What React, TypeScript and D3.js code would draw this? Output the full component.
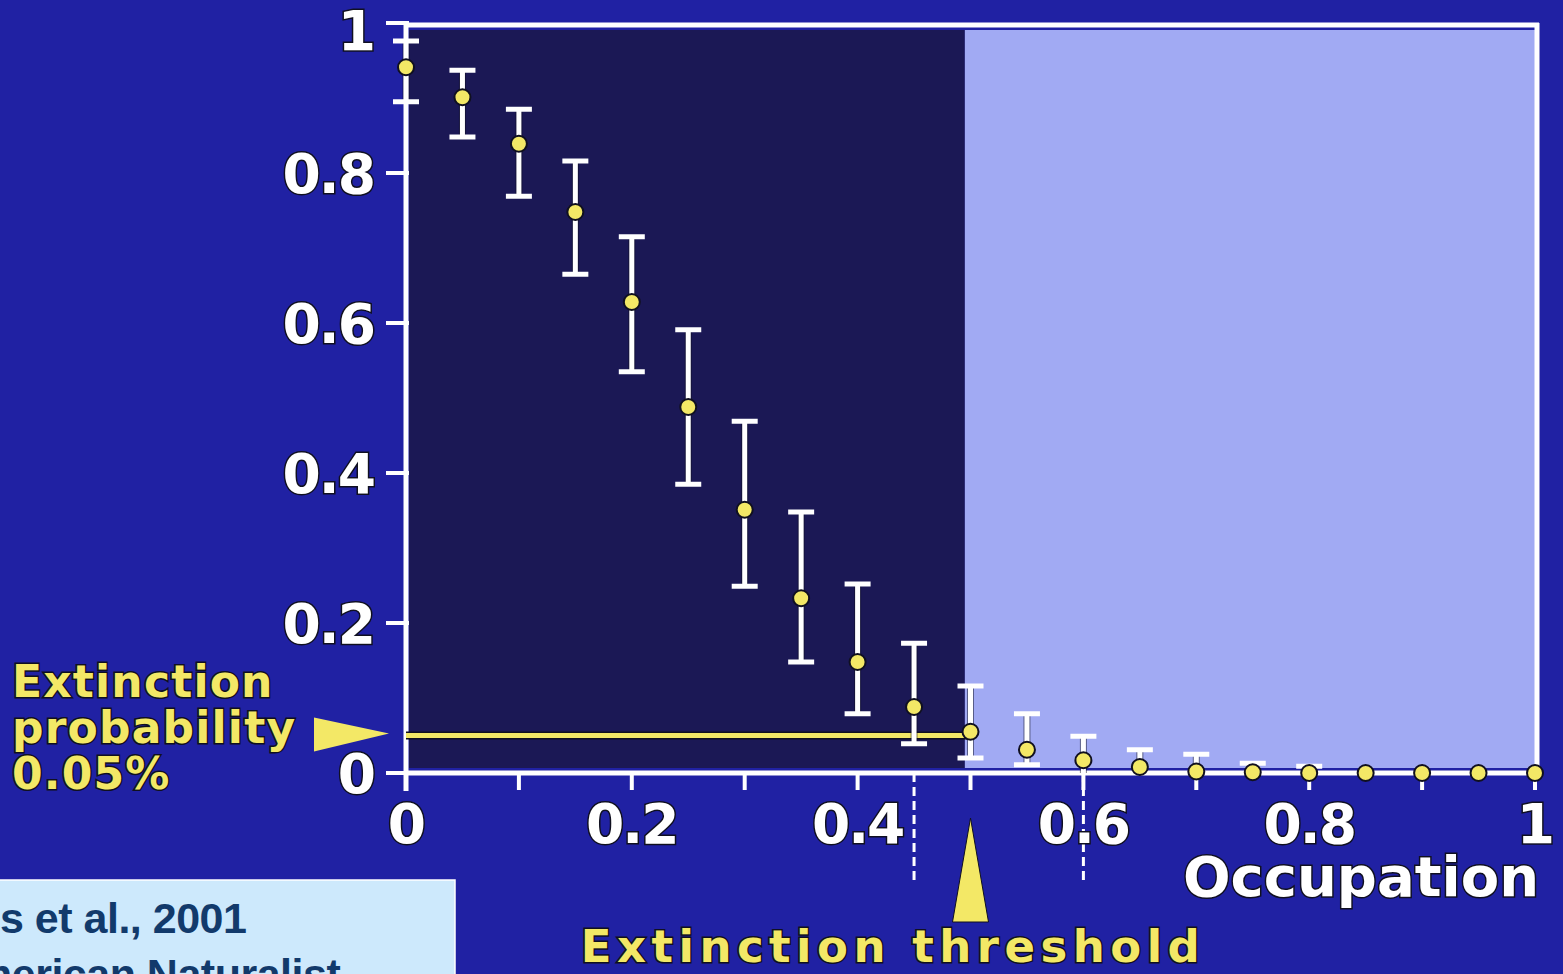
import React from "react";
import * as d3 from "d3";

const occupation = [0, 0.05, 0.1, 0.15, 0.2, 0.25, 0.3, 0.35, 0.4, 0.45, 0.5, 0.55, 0.6, 0.65, 0.7, 0.75, 0.8, 0.85, 0.9, 0.95, 1];
const extinctionProb = [0.941, 0.901, 0.839, 0.748, 0.628, 0.488, 0.351, 0.233, 0.148, 0.088, 0.055, 0.031, 0.017, 0.008, 0.002, 0.001, 0, 0, 0, 0, 0];
const errLow: (number | null)[] = [0.895, 0.848, 0.769, 0.665, 0.535, 0.385, 0.249, 0.148, 0.079, 0.039, 0.02, 0.011, 0, 0, 0, 0, 0, null, null, null, null];
const errHigh: (number | null)[] = [0.976, 0.937, 0.885, 0.816, 0.715, 0.591, 0.469, 0.348, 0.252, 0.173, 0.116, 0.079, 0.049, 0.031, 0.025, 0.013, 0.009, null, null, null, null];

const xTicks = [0, 0.2, 0.4, 0.6, 0.8, 1];
const xTickLabels = ["0", "0.2", "0.4", "0.6", "0.8", "1"];
const xMinorTicks = [0, 0.1, 0.2, 0.3, 0.4, 0.5, 0.6, 0.7, 0.8, 0.9, 1];
const yTicks = [0, 0.2, 0.4, 0.6, 0.8, 1];
const yTickLabels = ["0", "0.2", "0.4", "0.6", "0.8", "1"];
const dashedMarks = [0.45, 0.6];
const thresholdOccupation = 0.5;
const shadeSplit = 0.495;
const probabilityLevel = 0.05;
const probLabelLines = ["Extinction", "probability", "0.05%"];
const citationLines = ["s et al., 2001", "merican Naturalist"];

const W = 1563;
const H = 974;
const FONT = "'DejaVu Sans', Verdana, sans-serif";
const BG = "#2021a3";
const DARK = "#1b1855";
const LIGHT = "#a1aaf3";
const YELLOW = "#f3e866";
const OUT = "#101020";

export default function App() {
  const x = d3.scaleLinear().domain([0, 1]).range([406, 1535]);
  const y = d3.scaleLinear().domain([0, 1]).range([773, 23]);

  const whiteText = {
    fill: "#ffffff",
    stroke: OUT,
    strokeWidth: 3,
    paintOrder: "stroke" as const,
    fontFamily: FONT,
    fontWeight: 700,
  };
  const yellowText = { ...whiteText, fill: YELLOW };
  const citeFont = {
    fontSize: 43,
    letterSpacing: -0.5,
    fontFamily: "'Liberation Sans', Arial, sans-serif",
    fontWeight: 700,
    fill: "#123a6b",
  };

  return (
    <svg width={W} height={H} style={{ position: "absolute", left: 0, top: 0, display: "block" }}>
      <rect x={0} y={0} width={W} height={H} fill={BG} />

      {/* shaded regions */}
      <rect x={x(0) + 3} y={y(1) + 7} width={x(shadeSplit) - x(0) - 3} height={y(0) - y(1) - 12} fill={DARK} />
      <rect x={x(shadeSplit)} y={y(1) + 7} width={x(1) - x(shadeSplit)} height={y(0) - y(1) - 12} fill={LIGHT} />

      {/* frame */}
      <line x1={x(0)} x2={x(1) + 4} y1={y(1) + 2} y2={y(1) + 2} stroke="#fff" strokeWidth={5} />
      <line x1={x(1) + 2} x2={x(1) + 2} y1={y(1)} y2={y(0)} stroke="#fff" strokeWidth={5} />
      <line x1={x(0)} x2={x(1) + 4} y1={y(0)} y2={y(0)} stroke="#fff" strokeWidth={5} />
      <line x1={x(0)} x2={x(0)} y1={y(1)} y2={y(0) + 18} stroke="#fff" strokeWidth={5} />

      {/* y ticks */}
      {yTicks.map((t) => (
        <line key={"yt" + t} x1={x(0) - 20} x2={x(0) + 3} y1={y(t)} y2={y(t)} stroke="#fff" strokeWidth={4} />
      ))}
      {yTicks.map((t, i) => (
        <text
          key={"yl" + t}
          x={x(0) - 32}
          y={t === 1 ? y(t) + 27 : y(t) + 20}
          textAnchor="end"
          fontSize={55}
          letterSpacing={-2}
          {...whiteText}
        >
          {yTickLabels[i]}
        </text>
      ))}

      {/* x ticks */}
      {xMinorTicks.map((t) => (
        <line key={"xt" + t} x1={x(t)} x2={x(t)} y1={y(0)} y2={y(0) + 17} stroke="#fff" strokeWidth={4} />
      ))}
      {dashedMarks.map((t) => (
        <line key={"dm" + t} x1={x(t)} x2={x(t)} y1={y(0)} y2={y(0) + 107} stroke="#fff" strokeWidth={3} strokeDasharray="9 5" />
      ))}
      {xTicks.map((t, i) => (
        <text key={"xl" + t} x={x(t)} y={y(0) + 70} textAnchor="middle" fontSize={55} letterSpacing={-2} {...whiteText}>
          {xTickLabels[i]}
        </text>
      ))}
      <text x={x(1) + 4} y={896} textAnchor="end" fontSize={56} letterSpacing={0} {...whiteText}>
        Occupation
      </text>

      {/* probability level line */}
      <line x1={x(0)} x2={x(thresholdOccupation)} y1={y(probabilityLevel)} y2={y(probabilityLevel)} stroke={OUT} strokeWidth={8} />
      <line x1={x(0)} x2={x(thresholdOccupation)} y1={y(probabilityLevel)} y2={y(probabilityLevel)} stroke={YELLOW} strokeWidth={5} />

      {/* error bars */}
      {occupation.map((o, i) => {
        const lo = errLow[i];
        const hi = errHigh[i];
        if (lo === null || hi === null) return null;
        const cx = x(o);
        const cw = 13;
        return (
          <g key={"eb" + i}>
            <line x1={cx} x2={cx} y1={y(lo)} y2={y(hi)} stroke={OUT} strokeWidth={7} opacity={0.5} />
            <line x1={cx} x2={cx} y1={y(lo)} y2={y(hi)} stroke="#fff" strokeWidth={5} />
            {lo > 0 && <line x1={cx - cw} x2={cx + cw} y1={y(lo)} y2={y(lo)} stroke="#fff" strokeWidth={5} />}
            <line x1={cx - cw} x2={cx + cw} y1={y(hi)} y2={y(hi)} stroke="#fff" strokeWidth={5} />
          </g>
        );
      })}

      {/* points */}
      {occupation.map((o, i) => (
        <circle key={"pt" + i} cx={x(o)} cy={y(extinctionProb[i])} r={8} fill={YELLOW} stroke={OUT} strokeWidth={2} />
      ))}

      {/* extinction probability annotation */}
      {probLabelLines.map((line, i) => (
        <text key={"pl" + i} x={12} y={697 + i * 46} fontSize={44} letterSpacing={1.2} {...yellowText}>
          {line}
        </text>
      ))}
      <polygon
        points={`314,${y(probabilityLevel) - 18} 314,${y(probabilityLevel) + 16} ${x(0) - 17},${y(probabilityLevel) - 2}`}
        fill={YELLOW}
      />

      {/* extinction threshold annotation */}
      <polygon
        points={`${x(thresholdOccupation)},818 ${x(thresholdOccupation) - 18},922 ${x(thresholdOccupation) + 18},922`}
        fill={YELLOW}
        stroke={OUT}
        strokeWidth={1}
      />
      <text x={893} y={962} textAnchor="middle" fontSize={45} letterSpacing={5.5} {...yellowText}>
        Extinction threshold
      </text>

      {/* citation box */}
      <rect x={-2} y={880} width={457} height={100} fill="#cde9fc" stroke="#ffffff" strokeWidth={1.5} />
      <text x={0} y={933} {...citeFont}>
        {citationLines[0]}
      </text>
      <text x={-26} y={989} {...citeFont}>
        {citationLines[1]}
      </text>
    </svg>
  );
}
